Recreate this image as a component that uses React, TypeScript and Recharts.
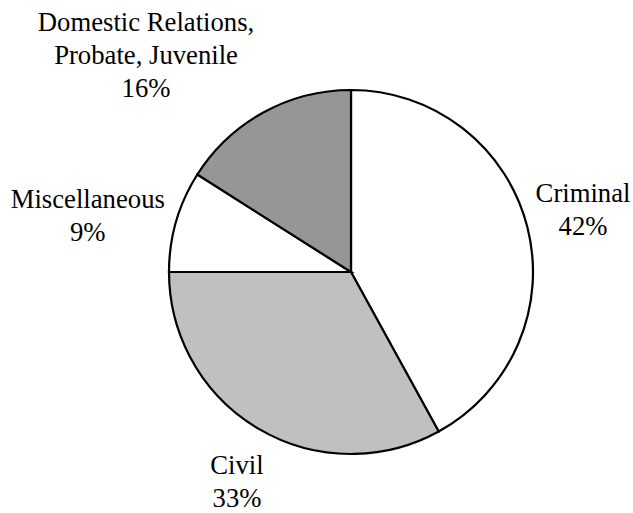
import { PieChart, Pie, Cell } from 'recharts';

const CATEGORIES = ['Criminal', 'Civil', 'Miscellaneous', 'Domestic Relations,\nProbate, Juvenile'];
const SHARES = [42, 33, 9, 16];
const FILLS = ['#ffffff', '#c0c0c0', '#ffffff', '#969696'];

// hand-tuned label shifts (px) from the default spot just outside the rim
const LABEL_NUDGE: [number, number][] = [
  [17, -7],
  [-1, 19],
  [-50, 6],
  [-98, -22],
];

const RADIAN = Math.PI / 180;
const FONT = 'Liberation Serif, Times New Roman, serif';
const LINE_H = 33;

interface Slice {
  name: string;
  value: number;
  fill: string;
}

const chartData: Slice[] = CATEGORIES.map((name, i) => ({
  name,
  value: SHARES[i],
  fill: FILLS[i],
}));

interface LabelProps {
  cx: number;
  cy: number;
  midAngle: number;
  outerRadius: number;
  index: number;
  name: string;
  value: number;
}

const renderLabel = ({ cx, cy, midAngle, outerRadius, index, name, value }: LabelProps) => {
  const r = outerRadius + 40;
  const [nx, ny] = LABEL_NUDGE[index] || [0, 0];
  const x = cx + r * Math.cos(-midAngle * RADIAN) + nx;
  const y = cy + r * Math.sin(-midAngle * RADIAN) + ny;
  const lines = [...name.split('\n'), `${value}%`];
  const top = y - ((lines.length - 1) * LINE_H) / 2;
  return (
    <text
      key={`lbl-${index}`}
      x={x}
      y={top}
      textAnchor='middle'
      fill='#000'
      style={{ fontFamily: FONT, fontSize: 26.7 }}
    >
      {lines.map((line, i) => (
        <tspan key={i} x={x} y={top + i * LINE_H} dy='0.33em'>
          {line}
        </tspan>
      ))}
    </text>
  );
};

const App = () => {
  return (
    <div style={{ position: 'absolute', left: 0, top: 0, width: 633, height: 513, background: '#fff', fontFamily: FONT }}>
      <PieChart width={633} height={513} margin={{ top: 0, right: 0, bottom: 0, left: 0 }}>
        <Pie
          data={chartData}
          dataKey='value'
          nameKey='name'
          cx={351}
          cy={272}
          outerRadius={182}
          startAngle={90}
          endAngle={-270}
          stroke='#000'
          strokeWidth={2.2}
          label={renderLabel}
          labelLine={false}
          isAnimationActive={false}
        >
          {chartData.map((entry, index) => (
            <Cell key={`cell-${index}`} fill={entry.fill} stroke='#000' strokeWidth={2.2} />
          ))}
        </Pie>
      </PieChart>
    </div>
  );
};

export default App;
